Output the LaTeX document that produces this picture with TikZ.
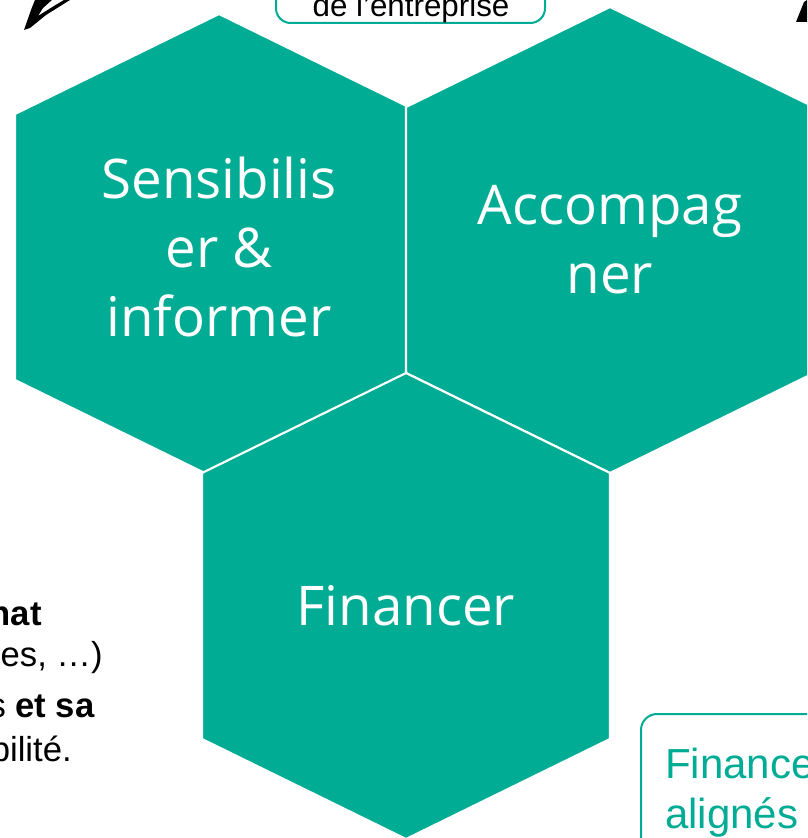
\documentclass[tikz,border=0pt]{standalone}
\usepackage{fontspec}
\setmainfont{Liberation Sans}
\newfontfamily\hexfont{Open Sans}
\usetikzlibrary{positioning}
\definecolor{hexcolor}{RGB}{0,172,148}
\def\hexw{204}
\def\hext{100}
\def\hexs{266}
\tikzset{
  hexa/.style     = {fill=hexcolor, draw=white, line width=1.6pt, line join=miter},
  hextext/.style  = {text=white, align=center, inner sep=0pt,
                     font=\hexfont\fontsize{41}{52}\selectfont},
  tagbox/.style   = {draw=hexcolor, line width=1.5pt, fill=white, rounded corners=11pt},
  tagtext/.style  = {inner sep=0pt, font=\fontsize{23.5}{28}\selectfont},
  bodytext/.style = {inner sep=0pt, font=\fontsize{26}{30}\selectfont},
  calltext/.style = {inner sep=0pt, text=hexcolor, font=\fontsize{31.5}{37}\selectfont},
  tipfill/.style  = {fill=black}
}

\begin{document}
\begin{tikzpicture}[x=0.75pt,y=-0.75pt]

\useasboundingbox (0,0) rectangle (807,838);
\clip (0,0) rectangle (807,838);

% --- three hexagons (left, right, bottom) ---
\foreach \cx/\cy [count=\i] in {219/247, 610/240, 406/606}{
  \filldraw[hexa] (\cx,\cy-233) -- ++(\hexw,\hext) -- ++(0,\hexs)
    -- ++(-\hexw,\hext) -- ++(-\hexw,-\hext) -- ++(0,-\hexs) -- cycle;
  \coordinate (hc\i) at (\cx,\cy);
}

\node[hextext] (sens) at (hc1) {Sensibilis\\er \&\\informer};
\node[hextext] (acc)  at (hc2) {Accompag\\ner};
\node[hextext] (fin)  at (hc3) {Financer};

% --- label box at the top ---
\draw[tagbox] (276,-30) rectangle (545,23);
\node[tagtext, anchor=base] (tag) at (411,17) {de l'entreprise};

% --- arrow tips cut by the frame ---
\coordinate (tipl) at (24,30);
\coordinate (tipr) at (796,22);
\fill[tipfill] (tipl) -- (31,10) -- (35,0) -- (52,0) -- (43,8) -- (38,16)
  -- (54,6) -- (64,0) -- (70,0) -- (46,15) -- (30,28) -- cycle;
\fill[tipfill] (tipr) -- (807,22) -- (807,0) -- (804,2) -- cycle;

% --- text on the left ---
\node[bodytext, anchor=base east] (l1) at (42,625)  {\textbf{nat}};
\node[bodytext, anchor=base east] (l2) at (103,666) {es, …)};
\node[bodytext, anchor=base east] (l3) at (95,717)  {s \textbf{et sa}};
\node[bodytext, anchor=base east] (l4) at (72,761)  {bilité.};

% --- callout box at the bottom right ---
\draw[tagbox, rounded corners=12pt] (641,714) rectangle (900,900);
\node[calltext, anchor=base west] (c1) at (665,778) {Finance};
\node[calltext, anchor=base west] (c2) at (665,828) {alignés};

\end{tikzpicture}
\end{document}
